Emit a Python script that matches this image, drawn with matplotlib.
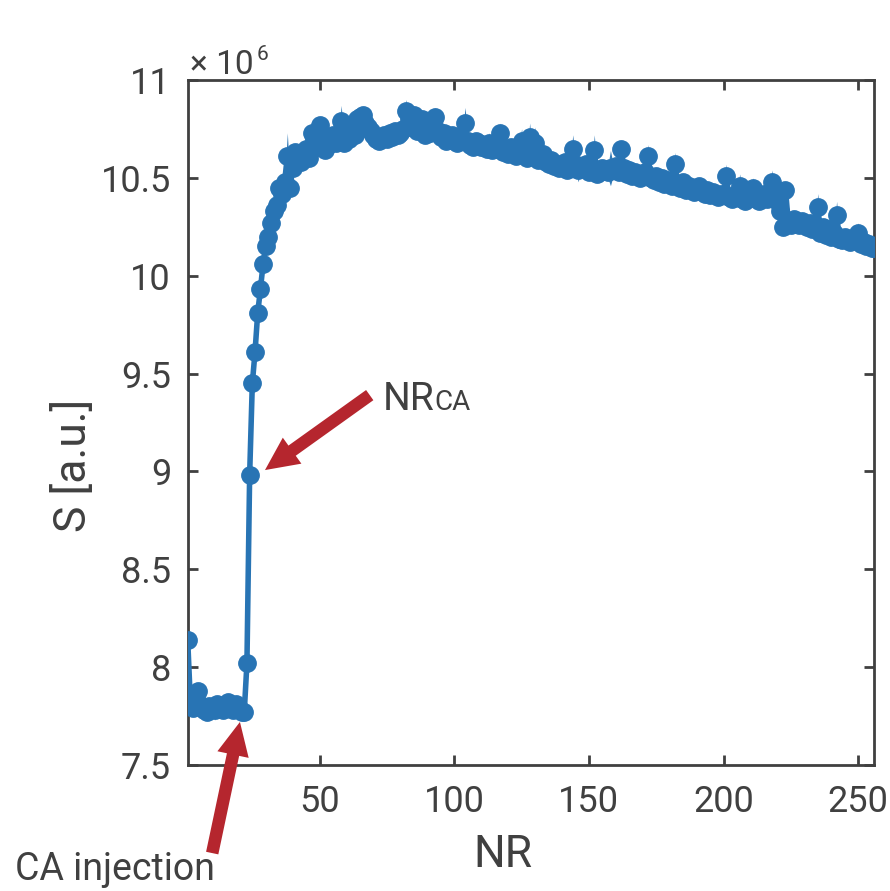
import matplotlib
matplotlib.use("Agg")
import matplotlib.pyplot as plt
from matplotlib import font_manager
import numpy as np

# signal S (x 1e6) per repetition NR = 1..256
signal = [
    8.14, 7.82, 7.79, 7.84, 7.88, 7.80, 7.78, 7.77, 7.80, 7.79,
    7.78, 7.81, 7.79, 7.78, 7.80, 7.82, 7.79, 7.78, 7.81, 7.79,
    7.77, 7.77, 8.02, 8.98, 9.45, 9.61, 9.81, 9.93, 10.06, 10.15,
    10.20, 10.27, 10.33, 10.36, 10.45, 10.42, 10.48, 10.61, 10.45, 10.55,
    10.63, 10.60, 10.58, 10.62, 10.65, 10.60, 10.73, 10.70, 10.66, 10.77,
    10.68, 10.64, 10.67, 10.70, 10.72, 10.68, 10.70, 10.79, 10.68, 10.71,
    10.70, 10.74, 10.72, 10.80, 10.81, 10.82, 10.78, 10.76, 10.74, 10.72,
    10.70, 10.69, 10.71, 10.72, 10.70, 10.73, 10.71, 10.74, 10.72, 10.73,
    10.75, 10.84, 10.80, 10.76, 10.82, 10.74, 10.78, 10.80, 10.72, 10.76,
    10.73, 10.79, 10.81, 10.74, 10.71, 10.73, 10.69, 10.70, 10.72, 10.69,
    10.68, 10.71, 10.70, 10.78, 10.69, 10.67, 10.66, 10.69, 10.68, 10.66,
    10.67, 10.65, 10.68, 10.64, 10.66, 10.65, 10.73, 10.63, 10.64, 10.62,
    10.66, 10.63, 10.61, 10.64, 10.69, 10.62, 10.60, 10.71, 10.61, 10.68,
    10.59, 10.60, 10.62, 10.58, 10.57, 10.59, 10.56, 10.57, 10.55, 10.56,
    10.58, 10.54, 10.55, 10.65, 10.57, 10.54, 10.56, 10.55, 10.57, 10.53,
    10.54, 10.64, 10.52, 10.53, 10.55, 10.54, 10.53, 10.55, 10.54, 10.56,
    10.53, 10.65, 10.55, 10.52, 10.54, 10.51, 10.53, 10.52, 10.50, 10.51,
    10.53, 10.61, 10.50, 10.49, 10.51, 10.48, 10.50, 10.47, 10.49, 10.48,
    10.46, 10.57, 10.47, 10.45, 10.48, 10.44, 10.46, 10.45, 10.43, 10.44,
    10.46, 10.43, 10.42, 10.44, 10.41, 10.43, 10.42, 10.40, 10.42, 10.41,
    10.51, 10.40, 10.39, 10.41, 10.40, 10.46, 10.39, 10.38, 10.40, 10.41,
    10.45, 10.39, 10.38, 10.40, 10.42, 10.39, 10.41, 10.48, 10.40, 10.38,
    10.33, 10.25, 10.44, 10.28, 10.26, 10.29, 10.27, 10.26, 10.28, 10.27,
    10.25, 10.27, 10.24, 10.26, 10.35, 10.22, 10.25, 10.21, 10.24, 10.20,
    10.22, 10.31, 10.19, 10.18, 10.20, 10.19, 10.17, 10.18, 10.19, 10.22,
    10.16, 10.17, 10.15, 10.16, 10.14, 10.14,
]
nr = np.arange(1, len(signal) + 1)

# half width of the shaded band: small everywhere, spikes where visible
err_base = 0.03
err_spikes = {4: 0.06, 11: 0.05, 19: 0.04, 35: 0.06, 38: 0.12, 47: 0.06,
              58: 0.08, 65: 0.05, 82: 0.06, 84: 0.05, 93: 0.05, 104: 0.08,
              110: 0.05, 113: 0.05, 117: 0.05, 125: 0.06, 128: 0.07,
              130: 0.08, 134: 0.05, 144: 0.07, 146: 0.06, 148: 0.05,
              152: 0.08, 158: 0.09, 163: 0.06, 168: 0.05, 172: 0.06,
              176: 0.05, 182: 0.06, 186: 0.05, 201: 0.06, 206: 0.06,
              211: 0.05, 218: 0.06, 222: 0.05, 235: 0.07, 238: 0.05,
              242: 0.07, 250: 0.05}

x_ticks = [50, 100, 150, 200, 250]
y_ticks = [7.5, 8, 8.5, 9, 9.5, 10, 10.5, 11]
y_ticklabels = ['7.5', '8', '8.5', '9', '9.5', '10', '10.5', '11']

names = {f.name for f in font_manager.fontManager.ttflist}
fam = 'Liberation Sans Narrow' if 'Liberation Sans Narrow' in names else 'Roboto'
plt.rcParams['font.family'] = [fam, 'DejaVu Sans']

grey = '#404040'
blue = '#2874b4'
red = '#b5262e'

S = np.array(signal) * 1e6
err = np.full(len(signal), err_base)
for k, v in err_spikes.items():
    err[k - 1] = v
err = err * 1e6

fig = plt.figure(figsize=(8.9, 8.91), dpi=100)
ax = fig.add_axes([0.2109, 0.1414, 0.7715, 0.7688])

ax.fill_between(nr, S - err, S + err, color=blue, lw=0, alpha=0.95, zorder=2)
ax.plot(nr, S, '-o', color=blue, lw=4, ms=12.5, mfc=blue, mec=blue, zorder=3)

ax.set_xlim(1, 256)
ax.set_ylim(7.5e6, 11e6)
ax.set_xticks(x_ticks)
ax.set_xticklabels([str(t) for t in x_ticks])
ax.set_yticks([t * 1e6 for t in y_ticks])
ax.set_yticklabels(y_ticklabels)

for s in ax.spines.values():
    s.set_color(grey)
    s.set_linewidth(2)
ax.tick_params(direction='in', length=7, width=2, color=grey, labelcolor=grey,
               labelsize=26, top=True, right=True)
ax.tick_params(axis='x', pad=14)
ax.tick_params(axis='y', pad=12)

ax.set_xlabel('NR', fontsize=32, color=grey)
ax.xaxis.set_label_coords(0.459, -0.100)
ax.set_ylabel('S [a.u.]', fontsize=32, color=grey)
ax.yaxis.set_label_coords(-0.135, 0.438)

# exponent label above the y axis
fig.text(190 / 890, 1 - 74 / 891, '\u00d7 10', fontsize=24, color=grey,
         ha='left', va='baseline')
fig.text(257 / 890, 1 - 60 / 891, '6', fontsize=15, color=grey,
         ha='left', va='baseline')

arrow = dict(arrowstyle='simple,head_width=2.3,head_length=2.4,tail_width=0.9',
             color=red, lw=0, shrinkA=0, shrinkB=0)
ax.annotate('', xy=(29.7, 9.007e6), xytext=(68.6, 9.39e6),
            arrowprops=arrow, annotation_clip=False, zorder=5)
ax.annotate('', xy=(20.4, 7.72e6), xytext=(10.1, 7.05e6),
            arrowprops=arrow, annotation_clip=False, zorder=5)

fig.text(383 / 890, 1 - 410 / 891, 'NR', fontsize=28, color=grey,
         ha='left', va='baseline')
fig.text(434 / 890, 1 - 410 / 891, 'CA', fontsize=20, color=grey,
         ha='left', va='baseline')
fig.text(15 / 890, 1 - 880 / 891, 'CA injection', fontsize=27, color=grey,
         ha='left', va='baseline')

fig.savefig('out.png', dpi=100)
